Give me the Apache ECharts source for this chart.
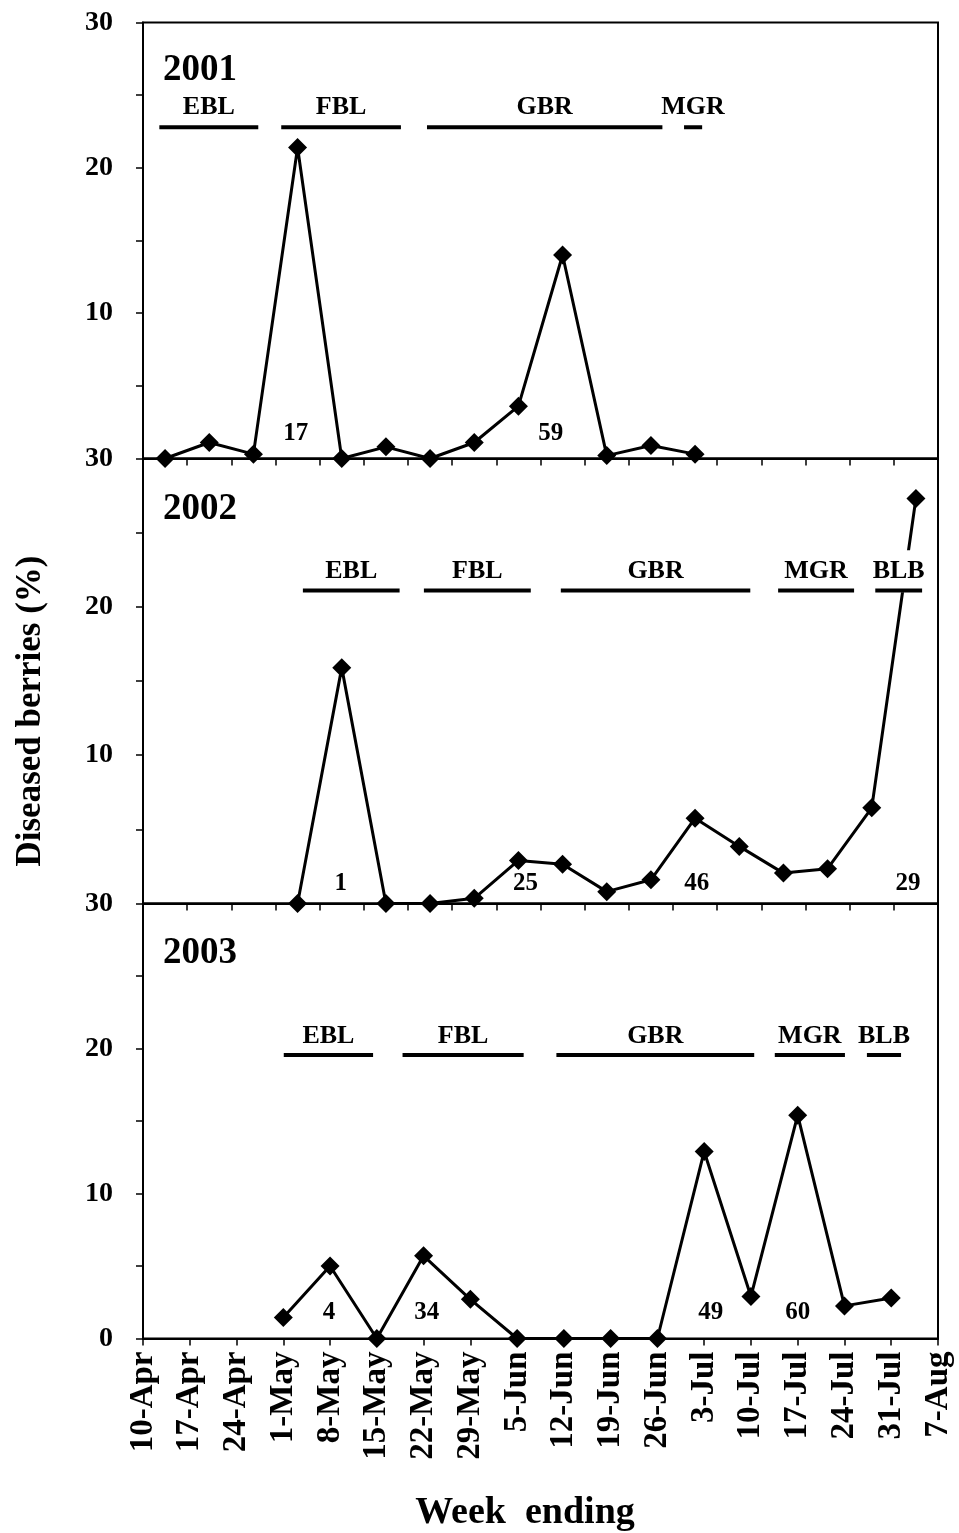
<!DOCTYPE html>
<html>
<head>
<meta charset="utf-8">
<script src="https://cdn.jsdelivr.net/npm/echarts@6/dist/echarts.min.js"></script>
<style>
  html, body { margin: 0; padding: 0; background: #fff; }
  #main { width: 959px; height: 1533px; }
</style>
</head>
<body>
<div id="main"></div>
<script>
// week ending labels (bottom axis)
var weekLabels = ['10-Apr', '17-Apr', '24-Apr', '1-May', '8-May', '15-May', '22-May', '29-May',
  '5-Jun', '12-Jun', '19-Jun', '26-Jun', '3-Jul', '10-Jul', '17-Jul', '24-Jul', '31-Jul', '7-Aug'];
var yTicks = [0, 10, 20, 30];

// diseased berries (%) per sampling week
var week2001 = [0, 1, 2, 3, 4, 5, 6, 7, 8, 9, 10, 11, 12];
var rate2001 = [0, 1.1, 0.3, 21.4, 0, 0.8, 0, 1.1, 3.6, 14.0, 0.2, 0.9, 0.3];
var week2002 = [3, 4, 5, 6, 7, 8, 9, 10, 11, 12, 13, 14, 15, 16, 17];
var rate2002 = [0, 15.9, 0, 0, 0.35, 2.9, 2.65, 0.8, 1.6, 5.75, 3.85, 2.05, 2.35, 6.45, 27.3];
var week2003 = [3, 4, 5, 6, 7, 8, 9, 10, 11, 12, 13, 14, 15, 16];
var rate2003 = [1.45, 5.0, 0, 5.7, 2.7, 0, 0, 0, 0, 12.9, 2.9, 15.4, 2.25, 2.8];

// growth stages: name, start, end (axis units)
var stages2001 = [['EBL', 0.37, 2.61], ['FBL', 3.13, 5.84], ['GBR', 6.43, 11.76], ['MGR', 12.25, 12.66]];
var stages2002 = [['EBL', 3.62, 5.81], ['FBL', 6.36, 8.78], ['GBR', 9.46, 13.75], ['MGR', 14.38, 16.1], ['BLB', 16.58, 17.64]];
var stages2003 = [['EBL', 3.01, 4.92], ['FBL', 5.55, 8.14], ['GBR', 8.84, 13.07], ['MGR', 13.51, 15.01], ['BLB', 15.48, 16.21]];

// sample counts: text, x (axis units)
var counts2001 = [['17', 3.46], ['59', 9.23]];
var counts2002 = [['1', 4.48], ['25', 8.66], ['46', 12.54], ['29', 17.32]];
var counts2003 = [['4', 3.98], ['34', 6.07], ['49', 12.14], ['60', 14.0]];

var years = ['2001', '2002', '2003'];

var FONT = '"Liberation Serif", "Times New Roman", serif';

// panel layout
var panels = [
  { top: 22.5, height: 436, xmax: 18, off: 0.5, barY: 22.8, labelY: 24.2, countY: 1.7, yearTop: 47,
    weeks: week2001, rates: rate2001, stages: stages2001, counts: counts2001 },
  { top: 458.5, height: 445, xmax: 18, off: 0.5, barY: 21.1, labelY: 22.4, countY: 1.36, yearTop: 486,
    weeks: week2002, rates: rate2002, stages: stages2002, counts: counts2002 },
  { top: 903.5, height: 435, xmax: 17, off: 0, barY: 19.55, labelY: 20.85, countY: 1.78, yearTop: 930,
    weeks: week2003, rates: rate2003, stages: stages2003, counts: counts2003 }
];

var grids = [], xAxes = [], yAxes = [], series = [], titles = [];

panels.forEach(function (p, i) {
  var last = i === panels.length - 1;
  grids.push({ left: 143, right: 21, top: p.top, height: p.height, show: true,
    borderColor: '#000', borderWidth: 2, backgroundColor: 'transparent' });

  xAxes.push({
    type: 'value', gridIndex: i, min: 0, max: p.xmax, interval: 1,
    axisLine: { show: true, lineStyle: { color: '#000', width: 2 } },
    axisTick: { show: true, length: 7, lineStyle: { color: '#000', width: 1.5 } },
    splitLine: { show: false },
    axisLabel: last ? {
      show: true, rotate: 90, margin: 13, color: '#000',
      fontFamily: FONT, fontWeight: 'bold', fontSize: 33,
      formatter: function (v) { return weekLabels[v] || ''; }
    } : { show: false }
  });

  yAxes.push({
    type: 'value', gridIndex: i, min: yTicks[0], max: yTicks[yTicks.length - 1], interval: 10,
    axisLine: { show: true, lineStyle: { color: '#000', width: 2 } },
    axisTick: { show: true, length: 7, lineStyle: { color: '#000', width: 1.5 } },
    minorTick: { show: true, splitNumber: 2, length: 7, lineStyle: { color: '#000', width: 1.5 } },
    splitLine: { show: false },
    axisLabel: { show: true, showMinLabel: last, margin: 30, color: '#000',
      fontFamily: FONT, fontWeight: 'bold', fontSize: 28 }
  });

  titles.push({ text: years[i], left: 158, top: p.yearTop,
    textStyle: { fontFamily: FONT, fontWeight: 'bold', fontSize: 37, color: '#000' } });

  // disease curve
  series.push({
    type: 'line', xAxisIndex: i, yAxisIndex: i, z: 5,
    data: p.weeks.map(function (w, k) { return [w + p.off, p.rates[k]]; }),
    symbol: 'diamond', symbolSize: 19, showAllSymbol: true,
    lineStyle: { color: '#000', width: 3 },
    itemStyle: { color: '#000' },
    animation: false, clip: false
  });

  // stage names (white box hides the curve behind them)
  series.push({
    type: 'scatter', xAxisIndex: i, yAxisIndex: i, z: 6, symbolSize: 0,
    itemStyle: { opacity: 1 },
    data: p.stages.map(function (s) { return { value: [(s[1] + s[2]) / 2, p.labelY], name: s[0] }; }),
    label: { show: true, position: 'inside', formatter: '{b}', color: '#000',
      fontFamily: FONT, fontWeight: 'bold', fontSize: 26,
      backgroundColor: '#fff', padding: [4, 3, 12, 3] },
    animation: false, silent: true
  });

  // stage bars
  p.stages.forEach(function (s) {
    series.push({
      type: 'line', xAxisIndex: i, yAxisIndex: i, z: 7,
      data: [[s[1], p.barY], [s[2], p.barY]],
      symbol: 'none', lineStyle: { color: '#000', width: 4 },
      animation: false, silent: true
    });
  });

  // sample counts
  series.push({
    type: 'scatter', xAxisIndex: i, yAxisIndex: i, z: 6, symbolSize: 0,
    itemStyle: { opacity: 1 },
    data: p.counts.map(function (c) { return { value: [c[1], p.countY], name: c[0] }; }),
    label: { show: true, position: 'inside', formatter: '{b}', color: '#000',
      fontFamily: FONT, fontWeight: 'bold', fontSize: 25 },
    animation: false, silent: true
  });
});

var chart = echarts.init(document.getElementById('main'), null, { renderer: 'canvas' });
chart.setOption({
  backgroundColor: '#fff',
  animation: false,
  title: titles,
  grid: grids,
  xAxis: xAxes,
  yAxis: yAxes,
  series: series,
  graphic: [
    { type: 'text', x: 31, y: 711, rotation: Math.PI / 2,
      style: { text: 'Diseased berries (%)', fill: '#000', font: 'bold 35px ' + FONT,
        textAlign: 'center', textVerticalAlign: 'middle' } },
    { type: 'text', x: 525, y: 1513,
      style: { text: 'Week  ending', fill: '#000', font: 'bold 38px ' + FONT,
        textAlign: 'center', textVerticalAlign: 'middle' } }
  ]
});
</script>
</body>
</html>
